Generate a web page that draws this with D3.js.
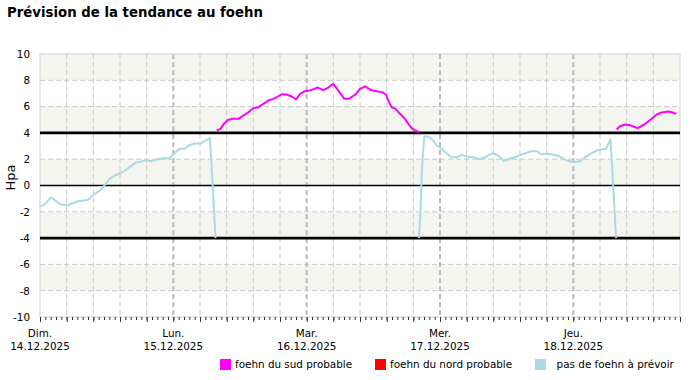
<!DOCTYPE html>
<html>
<head>
<meta charset="utf-8">
<script src="https://cdn.jsdelivr.net/npm/d3@7"></script>
<style>
  body { margin: 0; background: #fff; }
  svg { display: block; font-family: "DejaVu Sans", sans-serif; }
</style>
</head>
<body>
<svg id="chart" width="700" height="380"></svg>
<script>
// hours since 14.12.2025 00:00 -> hPa
const noFoehn1 = [
  [0, -1.6], [0.8, -1.45], [2.0, -0.9], [2.9, -1.2], [3.8, -1.45], [5.0, -1.5],
  [5.9, -1.35], [6.8, -1.2], [8.6, -1.1], [9.8, -0.65], [10.7, -0.4], [11.6, 0.0],
  [12.5, 0.5], [13.7, 0.8], [15.2, 1.1], [16.1, 1.4], [17.3, 1.75], [18.2, 1.8],
  [19.1, 1.95], [20.0, 1.85], [21.2, 2.0], [22.4, 2.08], [23.3, 2.08], [24.2, 2.46],
  [25.2, 2.79], [26.1, 2.79], [27.0, 3.09], [27.9, 3.19], [28.8, 3.19], [29.7, 3.4],
  [30.6, 3.6], [31.6, -4]
];
const southFoehn1 = [
  [31.8, 4.18], [32.5, 4.31], [33.1, 4.69], [33.9, 5.0], [34.8, 5.07], [35.7, 5.07],
  [36.6, 5.32], [37.5, 5.57], [38.4, 5.88], [39.3, 5.95], [40.2, 6.21], [41.1, 6.46],
  [42.0, 6.59], [42.6, 6.71], [43.5, 6.94], [44.4, 6.92], [45.3, 6.77], [46.1, 6.54],
  [46.8, 6.97], [47.7, 7.17], [48.9, 7.27], [50.0, 7.45], [51.0, 7.25], [51.9, 7.45],
  [52.8, 7.73], [53.7, 7.22], [54.8, 6.59], [55.6, 6.59], [56.7, 6.9], [57.6, 7.35],
  [58.5, 7.53], [59.6, 7.25], [60.6, 7.17], [61.6, 7.1], [62.3, 6.9], [62.8, 6.34],
  [63.3, 5.95], [64.0, 5.83], [64.8, 5.45], [65.6, 5.12], [66.3, 4.69], [66.9, 4.36],
  [67.5, 4.18], [68.3, 4.05]
];
const noFoehn2 = [
  [68.2, -4], [68.5, -1.8], [68.7, 0.76], [68.9, 2.28], [69.2, 3.73], [69.8, 3.73],
  [70.5, 3.55], [71.4, 3.04], [72.3, 2.79], [72.9, 2.53], [74.1, 2.15], [75.0, 2.15],
  [75.9, 2.33], [76.8, 2.2], [78.0, 2.15], [79.1, 2.0], [80.1, 2.15], [81.5, 2.46],
  [82.5, 2.28], [83.5, 1.85], [84.6, 2.03], [85.8, 2.2], [87.0, 2.41], [88.5, 2.61],
  [89.4, 2.61], [90.3, 2.36], [91.2, 2.41], [92.4, 2.36], [93.6, 2.2], [94.8, 1.9],
  [96.0, 1.77], [97.2, 1.85], [98.1, 2.15], [99.3, 2.46], [100.5, 2.7], [101.9, 2.79],
  [102.7, 3.55], [103.7, -4]
];
const southFoehn2 = [
  [103.8, 4.26], [104.4, 4.51], [105.3, 4.64], [106.2, 4.59], [106.8, 4.49], [107.6, 4.36],
  [108.3, 4.54], [109.2, 4.77], [110.1, 5.07], [111.0, 5.4], [111.9, 5.55], [113.1, 5.63],
  [114.0, 5.53], [114.5, 5.45]
];

const dayNames = ["Dim.", "Lun.", "Mar.", "Mer.", "Jeu."];
const dayDates = ["14.12.2025", "15.12.2025", "16.12.2025", "17.12.2025", "18.12.2025"];
const yTicks = [-10, -8, -6, -4, -2, 0, 2, 4, 6, 8, 10];
const bands = [[8, 10], [4, 6], [0, 2], [-4, -2], [-8, -6]];
const legendLabels = ["foehn du sud probable", "foehn du nord probable", "  pas de foehn à prévoir"];
const legendColors = ["#ff00ff", "#ff0000", "#add8e6"];

const svg = d3.select("#chart");
const margin = {top: 54, right: 20, bottom: 63, left: 40};
const W = 700, H = 380;

const x = d3.scaleLinear().domain([0, 115.2]).range([margin.left, W - margin.right]);
const y = d3.scaleLinear().domain([-10, 10]).range([H - margin.bottom, margin.top]);

svg.append("text")
  .attr("x", 7).attr("y", 17)
  .attr("font-size", 13.3).attr("font-weight", "bold")
  .text("Prévision de la tendance au foehn");

// shaded bands
svg.append("g").selectAll("rect").data(bands).join("rect")
  .attr("x", x(0)).attr("width", x(115.2) - x(0))
  .attr("y", d => y(d[1])).attr("height", d => y(d[0]) - y(d[1]))
  .attr("fill", "#f5f5f0");

// horizontal grid
svg.append("g").selectAll("line").data(yTicks.filter(d => Math.abs(d) !== 4 && d !== 0 && Math.abs(d) !== 10)).join("line")
  .attr("x1", x(0)).attr("x2", x(115.2))
  .attr("y1", d => y(d)).attr("y2", d => y(d))
  .attr("stroke", "#c8c8c8").attr("stroke-dasharray", "5,3");

// vertical grid every 4.8h, day lines every 24h
const vgrid = d3.range(1, 24).map(i => i * 4.8);
svg.append("g").selectAll("line").data(vgrid.filter(d => Math.round(d * 10) % 240 !== 0)).join("line")
  .attr("x1", d => x(d)).attr("x2", d => x(d))
  .attr("y1", y(10)).attr("y2", y(-10))
  .attr("stroke", "#c8c8c8").attr("stroke-dasharray", "5,3");
svg.append("g").selectAll("line").data([24, 48, 72, 96]).join("line")
  .attr("x1", d => x(d)).attr("x2", d => x(d))
  .attr("y1", y(10)).attr("y2", y(-10))
  .attr("stroke", "#bbbbbb").attr("stroke-width", 2).attr("stroke-dasharray", "5,3");

// frame
svg.append("rect")
  .attr("x", x(0)).attr("y", y(10))
  .attr("width", x(115.2) - x(0)).attr("height", y(-10) - y(10))
  .attr("fill", "none").attr("stroke", "#d0d0d0");

// threshold lines
svg.append("g").selectAll("line").data([4, 0, -4]).join("line")
  .attr("x1", x(0)).attr("x2", x(115.2))
  .attr("y1", d => y(d)).attr("y2", d => y(d))
  .attr("stroke", "#000").attr("stroke-width", d => d === 0 ? 1.6 : 2.6);

// series
const line = d3.line().x(d => x(d[0])).y(d => y(d[1]));
const series = [
  [noFoehn1, "#add8e6"], [southFoehn1, "#ff00ff"],
  [noFoehn2, "#add8e6"], [southFoehn2, "#ff00ff"]
];
svg.append("g").selectAll("path").data(series).join("path")
  .attr("d", d => line(d[0]))
  .attr("fill", "none")
  .attr("stroke", d => d[1])
  .attr("stroke-width", 2)
  .attr("stroke-linejoin", "round");

// y axis labels
svg.append("g")
  .attr("transform", `translate(${x(0)},0)`)
  .call(d3.axisLeft(y).tickValues(yTicks).tickSize(0).tickPadding(10).tickFormat(d => String(d)))
  .call(g => g.select(".domain").remove())
  .call(g => g.selectAll("text").attr("font-family", "DejaVu Sans").attr("font-size", 10.4).attr("fill", "#000"));

svg.append("text")
  .attr("transform", `translate(15,${y(0.6)}) rotate(-90)`)
  .attr("text-anchor", "middle")
  .attr("font-size", 13)
  .text("Hpa");

// x ticks
const minorTicks = d3.range(0, 121).map(i => i * 0.96);
svg.append("g")
  .attr("transform", `translate(0,${y(-10)})`)
  .call(d3.axisBottom(x).tickValues(minorTicks).tickSize(3).tickFormat(""))
  .call(g => g.select(".domain").remove())
  .call(g => g.selectAll("line").attr("stroke", "#333"));
svg.append("g")
  .attr("transform", `translate(0,${y(-10)})`)
  .call(d3.axisBottom(x).tickValues(d3.range(0, 25).map(i => i * 4.8)).tickSize(5).tickFormat(""))
  .call(g => g.select(".domain").remove())
  .call(g => g.selectAll("line").attr("stroke", "#333"));

svg.append("g").selectAll("text").data(dayNames).join("text")
  .attr("x", (d, i) => x(i * 24)).attr("y", 337)
  .attr("text-anchor", "middle").attr("font-size", 10.4)
  .text(d => d);
svg.append("g").selectAll("text").data(dayDates).join("text")
  .attr("x", (d, i) => x(i * 24)).attr("y", 349.5)
  .attr("text-anchor", "middle").attr("font-size", 10.4)
  .text(d => d);

// legend
const legendX = [220, 375, 535];
const leg = svg.append("g").selectAll("g").data(legendLabels).join("g")
  .attr("transform", (d, i) => `translate(${legendX[i]},359)`);
leg.append("rect").attr("width", 11).attr("height", 11).attr("fill", (d, i) => legendColors[i]);
leg.append("text").attr("x", 15).attr("y", 9.3).attr("font-size", 10.4)
  .attr("xml:space", "preserve").style("white-space", "pre")
  .text(d => d);
</script>
</body>
</html>
